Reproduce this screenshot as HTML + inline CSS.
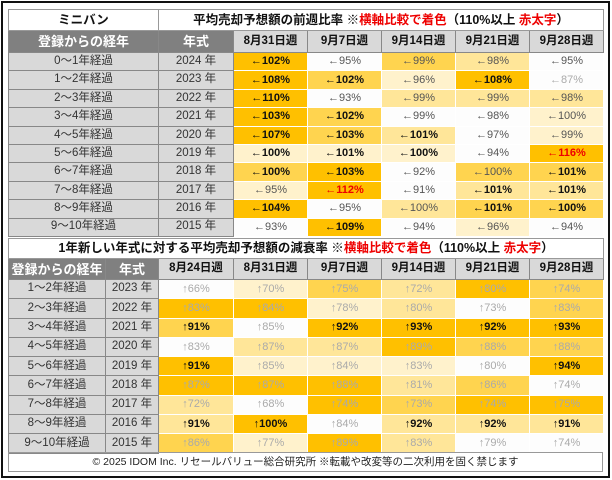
<!DOCTYPE html>
<html><head><meta charset="utf-8"><style>
*{margin:0;padding:0;box-sizing:border-box}
body{width:612px;height:480px;background:#fff;position:relative;overflow:hidden;font-family:"Liberation Sans","Noto Sans CJK JP",sans-serif;color:#222}
.frame{position:absolute;left:1px;top:1px;width:609px;height:477px;border:2px solid #111}
table{position:absolute;left:8px;border-collapse:collapse;table-layout:fixed;width:595px}
td{text-align:center;font-size:11px;white-space:nowrap;overflow:hidden;border:1px solid #fff;padding:0;line-height:1}
td.t{background:#fff;border:1px solid #999;font-weight:bold;font-size:12.5px;color:#111}
td.h{background:#808080;color:#fff;font-weight:bold;font-size:13px;border:1px solid #888}
td.d{background:#d9d9d9;color:#111;font-weight:bold;font-size:11.5px;border:1px solid #888}
td.g{background:#d9d9d9;color:#333;font-size:11.5px;border:1px solid #888}
.r{color:#e00}
.l0{background:#fdfdfd}.l1{background:#fff2cc}.l2{background:#ffe699}.l3{background:#ffd44f}.l4{background:#ffc000}
.b{font-weight:bold;color:#111}.n{color:#555}.f{color:#aaa}.x{color:#e00;font-weight:bold}
#t1 tr.row td{height:18.4px}
#t2 tr.row td{height:19.3px}
.foot{position:absolute;left:8px;top:452px;width:595px;height:20px;border:1px solid #999;font-size:10.5px;text-align:center;line-height:18px;color:#222}
</style></head><body>
<div class="frame"></div>
<table id="t1" style="top:9px">
<colgroup><col style="width:150px"><col style="width:75px"><col style="width:74px"><col style="width:74px"><col style="width:74px"><col style="width:74px"><col style="width:74px"></colgroup>
<tr><td class="t" style="height:21px">ミニバン</td><td class="t" colspan="6">平均売却予想額の前週比率 ※<span class="r">横軸比較で着色</span>（110%以上 <span class="r">赤太字</span>）</td></tr>
<tr><td class="h" style="height:22px">登録からの経年</td><td class="h">年式</td><td class="d">8月31日週</td><td class="d">9月7日週</td><td class="d">9月14日週</td><td class="d">9月21日週</td><td class="d">9月28日週</td></tr>
<tr class="row"><td class="g">0～1年経過</td><td class="g">2024 年</td><td class="l4 b">←102%</td><td class="l0 n">←95%</td><td class="l3 n">←99%</td><td class="l2 n">←98%</td><td class="l0 n">←95%</td></tr>
<tr class="row"><td class="g">1～2年経過</td><td class="g">2023 年</td><td class="l4 b">←108%</td><td class="l3 b">←102%</td><td class="l1 n">←96%</td><td class="l4 b">←108%</td><td class="l0 f">←87%</td></tr>
<tr class="row"><td class="g">2～3年経過</td><td class="g">2022 年</td><td class="l4 b">←110%</td><td class="l0 n">←93%</td><td class="l2 n">←99%</td><td class="l2 n">←99%</td><td class="l2 n">←98%</td></tr>
<tr class="row"><td class="g">3～4年経過</td><td class="g">2021 年</td><td class="l4 b">←103%</td><td class="l3 b">←102%</td><td class="l0 n">←99%</td><td class="l0 n">←98%</td><td class="l1 n">←100%</td></tr>
<tr class="row"><td class="g">4～5年経過</td><td class="g">2020 年</td><td class="l4 b">←107%</td><td class="l3 b">←103%</td><td class="l2 b">←101%</td><td class="l0 n">←97%</td><td class="l1 n">←99%</td></tr>
<tr class="row"><td class="g">5～6年経過</td><td class="g">2019 年</td><td class="l1 b">←100%</td><td class="l1 b">←101%</td><td class="l1 b">←100%</td><td class="l0 n">←94%</td><td class="l4 x">←116%</td></tr>
<tr class="row"><td class="g">6～7年経過</td><td class="g">2018 年</td><td class="l3 b">←100%</td><td class="l4 b">←103%</td><td class="l0 n">←92%</td><td class="l3 n">←100%</td><td class="l3 b">←101%</td></tr>
<tr class="row"><td class="g">7～8年経過</td><td class="g">2017 年</td><td class="l1 n">←95%</td><td class="l4 x">←112%</td><td class="l0 n">←91%</td><td class="l2 b">←101%</td><td class="l2 b">←101%</td></tr>
<tr class="row"><td class="g">8～9年経過</td><td class="g">2016 年</td><td class="l4 b">←104%</td><td class="l0 n">←95%</td><td class="l2 n">←100%</td><td class="l3 b">←101%</td><td class="l3 b">←100%</td></tr>
<tr class="row"><td class="g">9～10年経過</td><td class="g">2015 年</td><td class="l0 n">←93%</td><td class="l4 b">←109%</td><td class="l0 n">←94%</td><td class="l1 n">←96%</td><td class="l0 n">←94%</td></tr>
</table>
<table id="t2" style="top:238px">
<colgroup><col style="width:97px"><col style="width:53px"><col style="width:75px"><col style="width:74px"><col style="width:74px"><col style="width:74px"><col style="width:74px"><col style="width:74px"></colgroup>
<tr><td class="t" colspan="8" style="height:20px">1年新しい年式に対する平均売却予想額の減衰率 ※<span class="r">横軸比較で着色</span>（110%以上 <span class="r">赤太字</span>）</td></tr>
<tr><td class="h" style="height:21px">登録からの経年</td><td class="h">年式</td><td class="d">8月24日週</td><td class="d">8月31日週</td><td class="d">9月7日週</td><td class="d">9月14日週</td><td class="d">9月21日週</td><td class="d">9月28日週</td></tr>
<tr class="row"><td class="g">1～2年経過</td><td class="g">2023 年</td><td class="l0 f">↑66%</td><td class="l1 f">↑70%</td><td class="l3 f">↑75%</td><td class="l2 f">↑72%</td><td class="l4 f">↑80%</td><td class="l3 f">↑74%</td></tr>
<tr class="row"><td class="g">2～3年経過</td><td class="g">2022 年</td><td class="l4 f">↑83%</td><td class="l4 f">↑84%</td><td class="l1 f">↑78%</td><td class="l2 f">↑80%</td><td class="l0 f">↑73%</td><td class="l3 f">↑83%</td></tr>
<tr class="row"><td class="g">3～4年経過</td><td class="g">2021 年</td><td class="l3 b">↑91%</td><td class="l0 f">↑85%</td><td class="l4 b">↑92%</td><td class="l4 b">↑93%</td><td class="l4 b">↑92%</td><td class="l4 b">↑93%</td></tr>
<tr class="row"><td class="g">4～5年経過</td><td class="g">2020 年</td><td class="l0 f">↑83%</td><td class="l2 f">↑87%</td><td class="l2 f">↑87%</td><td class="l4 f">↑89%</td><td class="l3 f">↑88%</td><td class="l3 f">↑88%</td></tr>
<tr class="row"><td class="g">5～6年経過</td><td class="g">2019 年</td><td class="l4 b">↑91%</td><td class="l1 f">↑85%</td><td class="l1 f">↑84%</td><td class="l1 f">↑83%</td><td class="l0 f">↑80%</td><td class="l4 b">↑94%</td></tr>
<tr class="row"><td class="g">6～7年経過</td><td class="g">2018 年</td><td class="l4 f">↑87%</td><td class="l4 f">↑87%</td><td class="l4 f">↑88%</td><td class="l2 f">↑81%</td><td class="l3 f">↑86%</td><td class="l0 f">↑74%</td></tr>
<tr class="row"><td class="g">7～8年経過</td><td class="g">2017 年</td><td class="l2 f">↑72%</td><td class="l0 f">↑68%</td><td class="l4 f">↑74%</td><td class="l3 f">↑73%</td><td class="l4 f">↑74%</td><td class="l4 f">↑75%</td></tr>
<tr class="row"><td class="g">8～9年経過</td><td class="g">2016 年</td><td class="l2 b">↑91%</td><td class="l4 b">↑100%</td><td class="l0 f">↑84%</td><td class="l2 b">↑92%</td><td class="l2 b">↑92%</td><td class="l2 b">↑91%</td></tr>
<tr class="row"><td class="g">9～10年経過</td><td class="g">2015 年</td><td class="l3 f">↑86%</td><td class="l1 f">↑77%</td><td class="l4 f">↑89%</td><td class="l2 f">↑83%</td><td class="l0 f">↑79%</td><td class="l0 f">↑74%</td></tr>
</table>
<div class="foot">© 2025 IDOM Inc. リセールバリュー総合研究所 ※転載や改変等の二次利用を固く禁じます</div>
</body></html>
